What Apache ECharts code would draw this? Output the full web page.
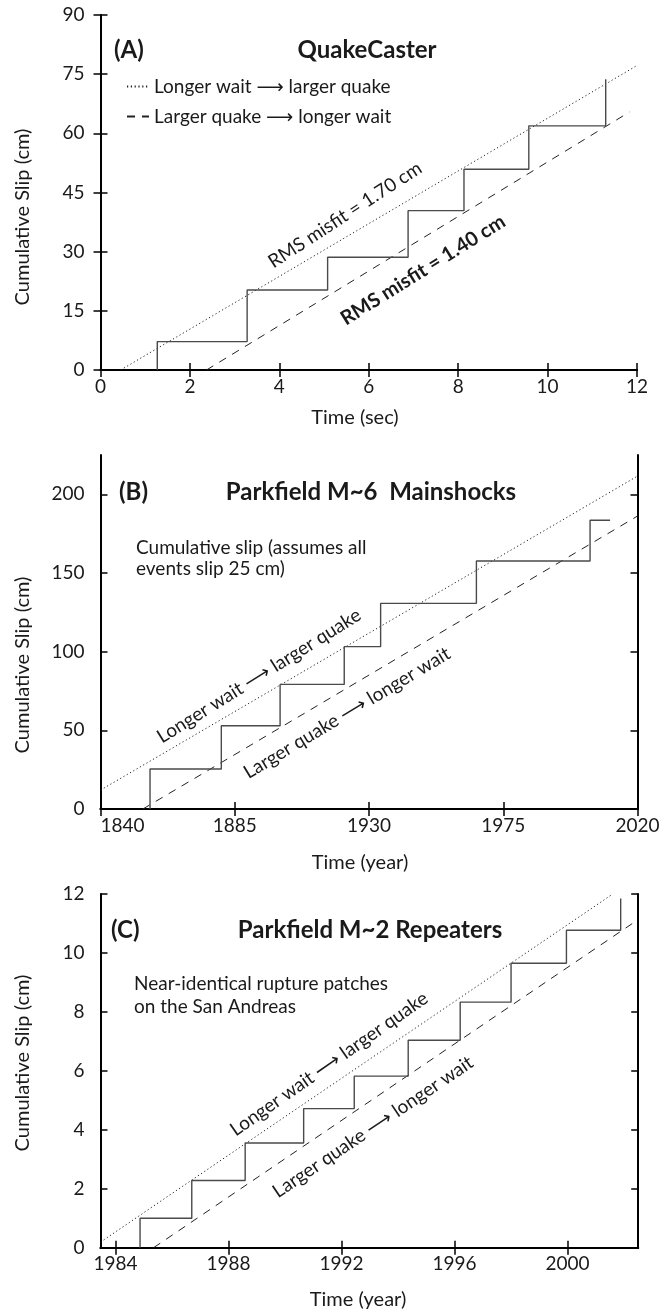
<!DOCTYPE html>
<html>
<head>
<meta charset="utf-8">
<script src="https://cdn.jsdelivr.net/npm/echarts@6/dist/echarts.min.js"></script>
<style>html,body{margin:0;padding:0;background:#fff;}#c{width:667px;height:1311px;}</style>
</head>
<body>
<div id="c"></div>
<script>
// ---------- Panel A: QuakeCaster ----------
const aTimes = [1.27, 3.28, 5.08, 6.88, 8.13, 9.58, 11.30];
const aSlip  = [7.2, 20.3, 28.6, 40.4, 50.9, 61.9, 73.7];
const aEnd   = 11.30;
const aDotted = [[0.45, 0], [12, 77.2]];
const aDashed = [[2.37, 0], [11.83, 65.4]];
const aXTicks = [0, 2, 4, 6, 8, 10, 12];
const aYTicks = [0, 15, 30, 45, 60, 75, 90];

// ---------- Panel B: Parkfield M~6 ----------
const bTimes = [1856.6, 1880.5, 1900.2, 1921.7, 1933.9, 1966.0, 2004.1];
const bSlip  = [25.4, 52.9, 79.2, 103.2, 130.7, 157.6, 183.5];
const bEnd   = 2010.8;
const bDotted = [[1840, 12], [2020, 211.6]];
const bDashed = [[1854.2, 0], [2020, 186.2]];
const bXTicks = [1840, 1885, 1930, 1975, 2020];
const bYTicks = [0, 50, 100, 150, 200];

// ---------- Panel C: Parkfield M~2 repeaters ----------
const cTimes = [1984.87, 1986.70, 1988.59, 1990.66, 1992.45, 1994.36, 1996.20, 1998.00, 1999.96, 2001.88];
const cSlip  = [1.00, 2.28, 3.55, 4.72, 5.82, 7.04, 8.33, 9.65, 10.77, 11.85];
const cEnd   = 2001.88;
const cDotted = [[1983.47, 0.19], [2001.6, 12]];
const cDashed = [[1985.35, 0], [2002.31, 11.01]];
const cXTicks = [1984, 1988, 1992, 1996, 2000];
const cYTicks = [0, 2, 4, 6, 8, 10, 12];

function stairs(times, slips, end) {
  const pts = [[times[0], 0]];
  for (let i = 0; i < times.length; i++) {
    pts.push([times[i], slips[i]]);
    const next = (i + 1 < times.length) ? times[i + 1] : end;
    if (next !== times[i]) pts.push([next, slips[i]]);
  }
  return pts;
}

const FF = "Lato, 'Open Sans', 'DejaVu Sans', sans-serif";
const TXT = '#1a1a1a';
const FS = 19;

const grids = [
  {left: 100.5, top: 15,  width: 536.5, height: 355},
  {left: 100.5, top: 455, width: 537,   height: 354},
  {left: 100.5, top: 894, width: 537.7, height: 353.7}
];
const ranges = [
  {x: [0, 12], y: [0, 90], xt: aXTicks, yt: aYTicks, alignMin: 'center'},
  {x: [1840, 2020], y: [0, 225], xt: bXTicks, yt: bYTicks, alignMin: 'left'},
  {x: [1983.47, 2002.5], y: [0, 12], xt: cXTicks, yt: cYTicks, alignMin: 'center'}
];

const plain = (v) => String(v);
const xAxes = [], yAxes = [];
ranges.forEach((r, g) => {
  const line = {show: true, lineStyle: {color: '#000', width: 2}};
  const tick = (vals) => ({show: true, inside: true, length: 7, lineStyle: {color: '#000', width: 1.5}, customValues: vals});
  xAxes.push({type: 'value', gridIndex: g, position: 'bottom', min: r.x[0], max: r.x[1],
    axisLine: line, axisTick: tick(r.xt), splitLine: {show: false},
    axisLabel: {customValues: r.xt, formatter: plain, fontFamily: FF, fontSize: FS, color: TXT, margin: 7,
      alignMinLabel: r.alignMin}});
  xAxes.push({type: 'value', gridIndex: g, position: 'top', min: r.x[0], max: r.x[1],
    axisLine: line, axisTick: tick(r.xt), splitLine: {show: false}, axisLabel: {show: false}});
  yAxes.push({type: 'value', gridIndex: g, position: 'left', min: r.y[0], max: r.y[1],
    axisLine: line, axisTick: tick(r.yt), splitLine: {show: false},
    axisLabel: {customValues: r.yt, formatter: plain, fontFamily: FF, fontSize: FS, color: TXT, margin: 16}});
  yAxes.push({type: 'value', gridIndex: g, position: 'right', min: r.y[0], max: r.y[1],
    axisLine: line, axisTick: tick(r.yt), splitLine: {show: false}, axisLabel: {show: false}});
});

function stepSeries(name, g, data) {
  return {name, type: 'line', xAxisIndex: 2 * g, yAxisIndex: 2 * g, data, symbol: 'none',
    lineStyle: {color: '#4a4a4a', width: 1.4}, itemStyle: {color: '#4a4a4a'}, z: 3, animation: false};
}
function refSeries(name, g, data, type) {
  return {name, type: 'line', xAxisIndex: 2 * g, yAxisIndex: 2 * g, data, symbol: 'none',
    lineStyle: {color: '#222', width: 1, type: type === 'dotted' ? [1.2, 2.6] : [8, 7]},
    itemStyle: {color: '#222'}, z: 2, animation: false};
}

const LW = 'Longer wait \u27F6 larger quake';
const LQ = 'Larger quake \u27F6 longer wait';

const series = [
  refSeries(LW, 0, aDotted, 'dotted'),
  refSeries(LQ, 0, aDashed, 'dashed'),
  stepSeries('QuakeCaster slip', 0, stairs(aTimes, aSlip, aEnd)),
  refSeries('B dotted', 1, bDotted, 'dotted'),
  refSeries('B dashed', 1, bDashed, 'dashed'),
  stepSeries('Parkfield M6 slip', 1, stairs(bTimes, bSlip, bEnd)),
  refSeries('C dotted', 2, cDotted, 'dotted'),
  refSeries('C dashed', 2, cDashed, 'dashed'),
  stepSeries('Parkfield M2 slip', 2, stairs(cTimes, cSlip, cEnd))
];

function txt(x, y, text, opt) {
  opt = opt || {};
  return {type: 'text', x, y, rotation: (opt.rot || 0) * Math.PI / 180, z: 10,
    style: {text, fill: TXT, fontFamily: FF, fontSize: opt.size || FS, fontWeight: opt.bold ? 'bold' : 'normal',
      align: opt.align || 'center', verticalAlign: 'middle'}};
}

const graphic = [
  // axis titles
  txt(23, 217, 'Cumulative Slip (cm)', {rot: 90, size: 20}),
  txt(355, 418, 'Time (sec)', {size: 20}),
  txt(23, 665, 'Cumulative Slip (cm)', {rot: 90, size: 20}),
  txt(360, 863, 'Time (year)', {size: 20}),
  txt(23, 1063, 'Cumulative Slip (cm)', {rot: 90, size: 20}),
  txt(358, 1300, 'Time (year)', {size: 20}),
  // Panel A
  txt(114, 50, '(A)', {bold: true, size: 24, align: 'left'}),
  txt(367, 50, 'QuakeCaster', {bold: true, size: 24}),
  txt(345, 215, 'RMS misfit = 1.70 cm', {rot: 33}),
  txt(423, 270, 'RMS misfit = 1.40 cm', {rot: 32, bold: true, size: 20}),
  // Panel B
  txt(119, 492, '(B)', {bold: true, size: 24, align: 'left'}),
  txt(371, 492, 'Parkfield M~6  Mainshocks', {bold: true, size: 24}),
  txt(136, 548, 'Cumulative slip (assumes all', {align: 'left'}),
  txt(136, 569, 'events slip 25 cm)', {align: 'left'}),
  txt(259, 676, LW, {rot: 32}),
  txt(347, 713, LQ, {rot: 31}),
  // Panel C
  txt(111, 930, '(C)', {bold: true, size: 24, align: 'left'}),
  txt(370, 930, 'Parkfield M~2 Repeaters', {bold: true, size: 24}),
  txt(134, 984, 'Near-identical rupture patches', {align: 'left'}),
  txt(134, 1007, 'on the San Andreas', {align: 'left'}),
  txt(329, 1064, LW, {rot: 35}),
  txt(373, 1127, LQ, {rot: 34})
];

const chart = echarts.init(document.getElementById('c'), null, {renderer: 'canvas'});
chart.setOption({
  animation: false,
  backgroundColor: '#fff',
  grid: grids,
  xAxis: xAxes,
  yAxis: yAxes,
  legend: {
    data: [LW, LQ], orient: 'vertical', left: 121, top: 72, itemWidth: 22, itemHeight: 10, itemGap: 11,
    itemStyle: {opacity: 0},
    textStyle: {fontFamily: FF, fontSize: FS, color: TXT},
    selectedMode: false
  },
  series,
  graphic
});
</script>
</body>
</html>
